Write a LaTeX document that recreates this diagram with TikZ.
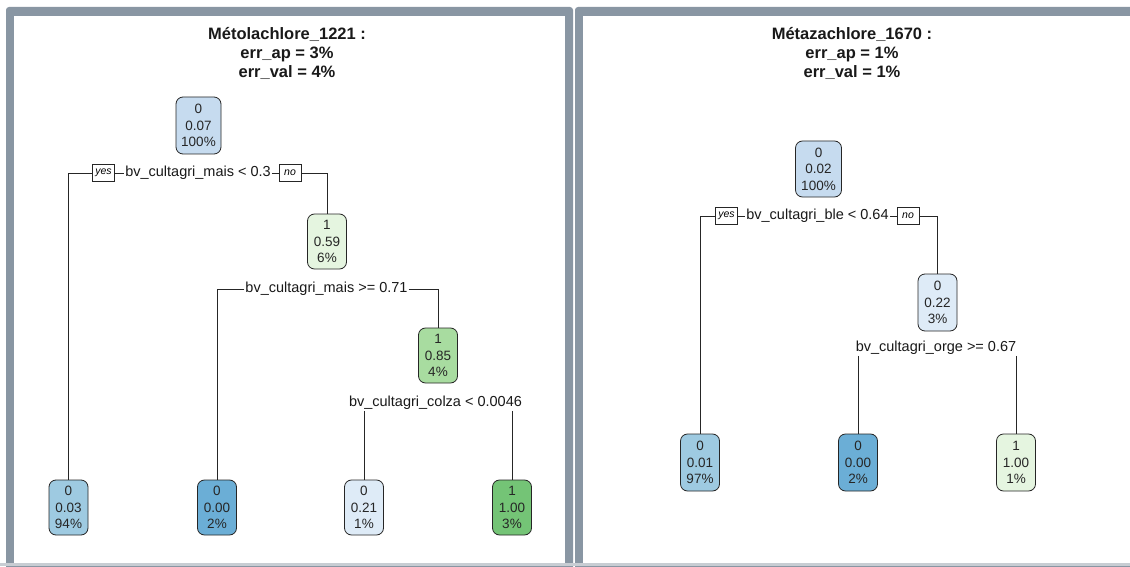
\documentclass[tikz,border=0pt]{standalone}
\usepackage{fontspec}
\setmainfont{Liberation Sans}
\definecolor{frame}{HTML}{8996A3}
\definecolor{bottomline}{HTML}{C8CDD3}
\definecolor{bluea}{HTML}{C6DBEF}
\definecolor{blueb}{HTML}{9ECAE1}
\definecolor{bluec}{HTML}{6BAED6}
\definecolor{blued}{HTML}{DEEBF7}
\definecolor{greena}{HTML}{E5F5E0}
\definecolor{greenb}{HTML}{A8DCA0}
\definecolor{greenc}{HTML}{74C476}
\newcommand\nodefont{\fontsize{13.5}{16.5}\selectfont}
\newcommand\splitfont{\fontsize{14.5}{16}\selectfont}
\newcommand\titlefont{\fontsize{16.5}{18.8}\selectfont\bfseries}
\newcommand\ynfont{\fontsize{10.5}{12}\selectfont\itshape}
\tikzset{
  tnode/.style={draw=black!85, rounded corners=7pt, minimum width=39pt, minimum height=55pt,
    align=center, font=\nodefont, text=black!85, inner sep=0pt, line width=0.8pt},
  splitlab/.style={font=\splitfont, inner sep=1pt, text=black!90},
  yn/.style={draw=black!85, font=\ynfont, inner sep=1.5pt, minimum height=17pt, minimum width=22pt, fill=white, line width=0.7pt},
  ttl/.style={font=\titlefont, align=center, text=black!90},
  edge/.style={line width=0.9pt, draw=black!85}
}
\begin{document}
\begin{tikzpicture}[x=1pt,y=-1pt]
\useasboundingbox (0,0) rectangle (1130,567);
\clip (0,0) rectangle (1130,567);
% frames
\fill[white] (0,0) rectangle (1130,567);
\fill[frame, rounded corners=3pt] (6,7) rectangle (573,575);
\fill[white] (14,16) rectangle (565,563);
\fill[frame, rounded corners=3pt] (575,7) rectangle (1145,575);
\fill[white] (583,16) rectangle (1145,563);
\fill[bottomline] (0,563) rectangle (1130,566);

% ---------- left tree ----------
\node[ttl] (ltitle) at (287,53.5) {Métolachlore\_1221 :\\err\_ap = 3\%\\err\_val = 4\%};
\node[tnode, fill=bluea, minimum width=45pt, minimum height=57pt] (L0) at (198.5,125.5) {0\\0.07\\100\%};
\node[splitlab] (Ls1) at (198,173) {bv\_cultagri\_mais < 0.3};
\node[yn] (Lyes) at (103.5,173) {yes};
\node[yn] (Lno) at (290,173) {no};
\node[tnode, fill=greena] (L1) at (327,241.5) {1\\0.59\\6\%};
\node[splitlab] (Ls2) at (326.5,289) {bv\_cultagri\_mais >= 0.71};
\node[tnode, fill=greenb] (L2) at (438,355.5) {1\\0.85\\4\%};
\node[splitlab] (Ls3) at (435.5,403) {bv\_cultagri\_colza < 0.0046};
\node[tnode, fill=blueb] (La) at (68.5,507.5) {0\\0.03\\94\%};
\node[tnode, fill=bluec] (Lb) at (217,507.5) {0\\0.00\\2\%};
\node[tnode, fill=blued] (Lc) at (364,507.5) {0\\0.21\\1\%};
\node[tnode, fill=greenc] (Ld) at (512,507.5) {1\\1.00\\3\%};

\draw[edge] (Lyes.west) -- (Lyes.west -| La.north) -- (La.north);
\draw[edge] (Lyes.east) -- (Ls1.west);
\draw[edge] (Ls1.east) -- (Lno.west);
\draw[edge] (Lno.east) -- (Lno.east -| L1.north) -- (L1.north);
\draw[edge] (Ls2.west) -- (Ls2.west -| Lb.north) -- (Lb.north);
\draw[edge] (Ls2.east) -- (Ls2.east -| L2.north) -- (L2.north);
\draw[edge] (Ls3.south -| Lc.north) -- (Lc.north);
\draw[edge] (Ls3.south -| Ld.north) -- (Ld.north);

% ---------- right tree ----------
\node[ttl] (rtitle) at (852,53.5) {Métazachlore\_1670 :\\err\_ap = 1\%\\err\_val = 1\%};
\node[tnode, fill=bluea, minimum width=46pt, minimum height=56pt] (R0) at (818.5,169) {0\\0.02\\100\%};
\node[splitlab] (Rs1) at (817.5,216) {bv\_cultagri\_ble < 0.64};
\node[yn] (Ryes) at (726.5,216) {yes};
\node[yn] (Rno) at (908,216) {no};
\node[tnode, fill=blued, minimum height=57pt] (R1) at (937.5,302.5) {0\\0.22\\3\%};
\node[splitlab] (Rs2) at (936,348) {bv\_cultagri\_orge >= 0.67};
\node[tnode, fill=blueb, minimum height=57pt] (Ra) at (700,462.5) {0\\0.01\\97\%};
\node[tnode, fill=bluec, minimum height=57pt] (Rb) at (858,462.5) {0\\0.00\\2\%};
\node[tnode, fill=greena, minimum height=57pt] (Rc) at (1016,462.5) {1\\1.00\\1\%};

\draw[edge] (Ryes.west) -- (Ryes.west -| Ra.north) -- (Ra.north);
\draw[edge] (Ryes.east) -- (Rs1.west);
\draw[edge] (Rs1.east) -- (Rno.west);
\draw[edge] (Rno.east) -- (Rno.east -| R1.north) -- (R1.north);
\draw[edge] (Rs2.south -| Rb.north) -- (Rb.north);
\draw[edge] (Rs2.south -| Rc.north) -- (Rc.north);
\end{tikzpicture}
\end{document}
